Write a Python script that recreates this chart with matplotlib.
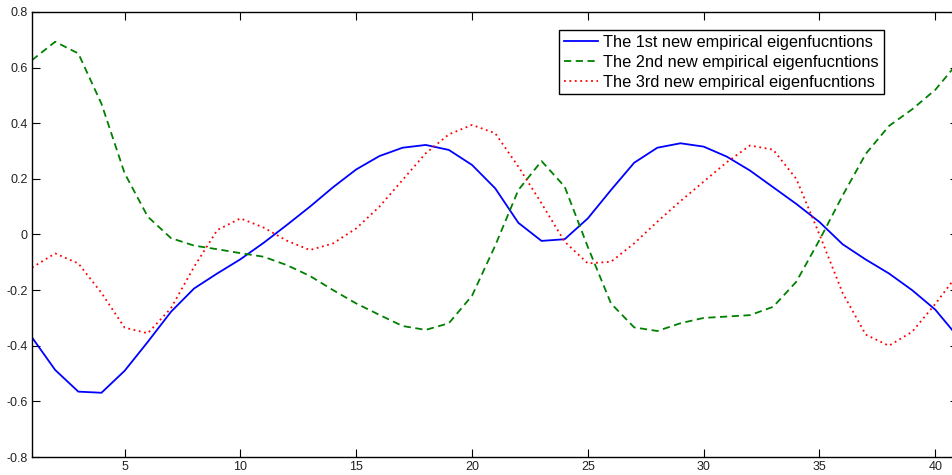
import numpy as np
import matplotlib
matplotlib.use('Agg')
import matplotlib.pyplot as plt

plt.rcParams['font.family'] = ['Liberation Sans', 'DejaVu Sans']

# valores, x = 1..41
x = np.arange(1, 42)

serie1 = [-0.37, -0.487, -0.565, -0.569, -0.49, -0.386, -0.278, -0.194, -0.14, -0.089,
          -0.03, 0.034, 0.10, 0.17, 0.234, 0.282, 0.312, 0.322, 0.304, 0.25,
          0.166, 0.042, -0.023, -0.017, 0.058, 0.16, 0.258, 0.312, 0.328, 0.316,
          0.28, 0.23, 0.17, 0.11, 0.045, -0.035, -0.09, -0.14, -0.2, -0.27, -0.37]

serie2 = [0.627, 0.693, 0.651, 0.47, 0.22, 0.064, -0.013, -0.04, -0.053, -0.067,
          -0.08, -0.11, -0.149, -0.2, -0.248, -0.289, -0.329, -0.343, -0.319, -0.22,
          -0.04, 0.16, 0.264, 0.172, -0.045, -0.248, -0.334, -0.347, -0.319, -0.3,
          -0.295, -0.29, -0.26, -0.17, -0.02, 0.14, 0.29, 0.39, 0.45, 0.52, 0.62]

serie3 = [-0.119, -0.068, -0.104, -0.21, -0.335, -0.355, -0.265, -0.116, 0.016, 0.058,
          0.025, -0.022, -0.056, -0.032, 0.022, 0.1, 0.196, 0.292, 0.36, 0.394,
          0.364, 0.244, 0.112, -0.026, -0.104, -0.098, -0.032, 0.046, 0.12, 0.19,
          0.26, 0.32, 0.305, 0.2, 0.0, -0.21, -0.36, -0.40, -0.35, -0.25, -0.14]

etiquetas = ['The 1st new empirical eigenfucntions',
             'The 2nd new empirical eigenfucntions',
             'The 3rd new empirical eigenfucntions']

fig = plt.figure(figsize=(9.53, 4.75), dpi=100)
ax = fig.add_axes([32 / 953, 18 / 475, 926.4 / 953, 445 / 475])

ax.plot(x, serie1, color='#0000ff', linestyle='-', linewidth=1.3, label=etiquetas[0])
ax.plot(x, serie2, color='#008000', linestyle=(0, (4, 2.5)), linewidth=1.3, label=etiquetas[1])
ax.plot(x, serie3, color='#ff0000', linestyle=(0, (1, 2)), linewidth=1.3, label=etiquetas[2])

ax.set_xlim(1, 41)
ax.set_ylim(-0.8, 0.8)
ax.set_xticks([5, 10, 15, 20, 25, 30, 35, 40])
ax.set_yticks([-0.8, -0.6, -0.4, -0.2, 0, 0.2, 0.4, 0.6, 0.8])
ax.set_yticklabels(['-0.8', '-0.6', '-0.4', '-0.2', '0', '0.2', '0.4', '0.6', '0.8'])
ax.tick_params(direction='in', length=6, width=0.8, labelsize=9, top=True, right=True, pad=3,
               labelcolor='#222222')
for s in ax.spines.values():
    s.set_linewidth(1.0)

leg = ax.legend(loc='upper left', bbox_to_anchor=(0.569, 0.96), fontsize=11.8,
                frameon=True, fancybox=False, edgecolor='black', framealpha=1,
                handlelength=2.1, handletextpad=0.3, borderpad=0.3, labelspacing=0.3,
                borderaxespad=0)
leg.get_frame().set_linewidth(1.0)

fig.savefig('out.png', dpi=100)
